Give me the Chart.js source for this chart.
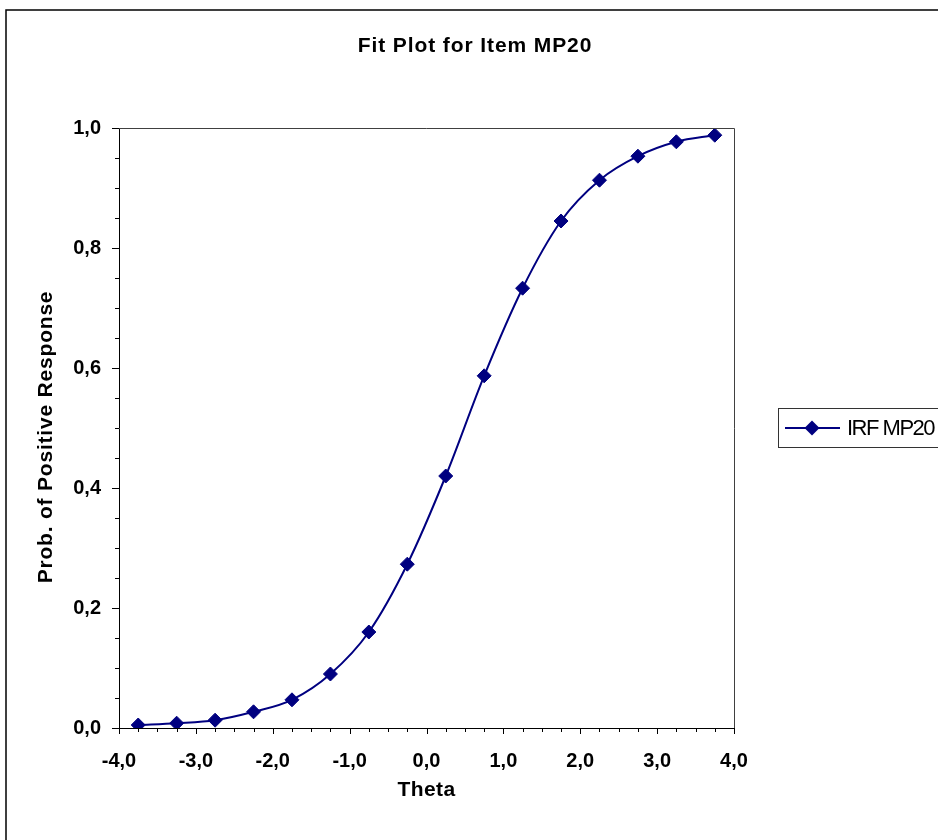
<!DOCTYPE html>
<html>
<head>
<meta charset="utf-8">
<script src="https://cdn.jsdelivr.net/npm/chart.js@4.4.1/dist/chart.umd.min.js"></script>
<style>
    html, body { margin: 0; padding: 0; background: #fff; }
    #wrap { width: 938px; height: 840px; }
</style>
</head>
<body>
<div id="wrap"><canvas id="fitPlot"></canvas></div>
<script>
const theta = [-3.75, -3.25, -2.75, -2.25, -1.75, -1.25, -0.75, -0.25, 0.25, 0.75, 1.25, 1.75, 2.25, 2.75, 3.25, 3.75];
const probIRF = [0.005, 0.008, 0.013, 0.027, 0.047, 0.09, 0.16, 0.273, 0.42, 0.587, 0.733, 0.845, 0.913, 0.953, 0.977, 0.988];
const xTicks = [-4, -3, -2, -1, 0, 1, 2, 3, 4];
const yTicks = [0, 0.2, 0.4, 0.6, 0.8, 1.0];

const chartTitle = 'Fit Plot for Item MP20';
const xTitle = 'Theta';
const yTitle = 'Prob. of Positive Response';
const seriesName = 'IRF MP20';

const navy = '#000080';
const comma = v => Number(v).toFixed(1).replace('.', ',');

// frame, minor ticks, titles and legend box (Excel look)
const excelDecor = {
    id: 'excelDecor',
    afterDraw(chart) {
        const ctx = chart.ctx;
        const a = chart.chartArea;
        const xs = chart.scales.x, ys = chart.scales.y;
        ctx.save();

        // outer chart border
        ctx.strokeStyle = '#000';
        ctx.lineWidth = 1.5;
        ctx.strokeRect(6, 10, chart.width + 20, chart.height + 20);

        // top/right plot frame
        ctx.strokeStyle = '#404040';
        ctx.lineWidth = 1;
        ctx.beginPath();
        ctx.moveTo(a.left, a.top + 0.5);
        ctx.lineTo(a.right + 0.5, a.top + 0.5);
        ctx.lineTo(a.right + 0.5, a.bottom);
        ctx.stroke();

        // tick marks
        ctx.strokeStyle = '#000';
        ctx.beginPath();
        for (let i = 0; i <= 20; i++) {
            const v = i * 0.05;
            const py = Math.round(ys.getPixelForValue(v)) + 0.5;
            const len = i % 4 === 0 ? 7 : 4;
            ctx.moveTo(a.left - len, py);
            ctx.lineTo(a.left, py);
        }
        for (let i = 0; i <= 32; i++) {
            const v = -4 + i * 0.25;
            const px = Math.round(xs.getPixelForValue(v)) + 0.5;
            const len = i % 4 === 0 ? 6 : 4;
            ctx.moveTo(px, a.bottom);
            ctx.lineTo(px, a.bottom + len);
        }
        ctx.stroke();

        // titles
        ctx.fillStyle = '#000';
        ctx.textAlign = 'center';
        ctx.textBaseline = 'middle';
        ctx.font = 'bold 21px "Liberation Sans", Arial, sans-serif';
        ctx.letterSpacing = '0.9px';
        ctx.fillText(chartTitle, chart.width / 2 + 6, 46);
        ctx.letterSpacing = '0.4px';
        ctx.fillText(xTitle, (a.left + a.right) / 2, 790);
        ctx.letterSpacing = '0.8px';
        ctx.save();
        ctx.translate(46, (a.top + a.bottom) / 2 + 9);
        ctx.rotate(-Math.PI / 2);
        ctx.fillText(yTitle, 0, 0);
        ctx.restore();

        // legend
        const ly = (a.top + a.bottom) / 2;
        const lx = a.right + 44;
        ctx.letterSpacing = '0px';
        ctx.strokeStyle = '#333';
        ctx.lineWidth = 1;
        ctx.strokeRect(lx + 0.5, ly - 19.5, 200, 39);
        ctx.strokeStyle = navy;
        ctx.lineWidth = 2;
        ctx.beginPath();
        ctx.moveTo(lx + 7, ly);
        ctx.lineTo(lx + 62, ly);
        ctx.stroke();
        ctx.fillStyle = navy;
        ctx.beginPath();
        ctx.moveTo(lx + 34, ly - 7.5);
        ctx.lineTo(lx + 41.5, ly);
        ctx.lineTo(lx + 34, ly + 7.5);
        ctx.lineTo(lx + 26.5, ly);
        ctx.closePath();
        ctx.fill();
        ctx.fillStyle = '#000';
        ctx.textAlign = 'left';
        ctx.font = '22px "Liberation Sans", Arial, sans-serif';
        ctx.letterSpacing = '-1.5px';
        ctx.fillText(seriesName, lx + 69, ly + 1);

        ctx.restore();
    }
};

new Chart(document.getElementById('fitPlot'), {
    type: 'line',
    data: {
        datasets: [{
            label: seriesName,
            data: theta.map((t, i) => ({ x: t, y: probIRF[i] })),
            borderColor: navy,
            backgroundColor: navy,
            borderWidth: 2,
            pointStyle: 'rectRot',
            pointRadius: 7,
            pointHoverRadius: 7,
            pointBackgroundColor: navy,
            pointBorderColor: navy,
            pointBorderWidth: 1,
            cubicInterpolationMode: 'monotone',
            fill: false
        }]
    },
    options: {
        responsive: true,
        maintainAspectRatio: false,
        animation: false,
        layout: {
            padding: { left: 6, top: 128, right: 204, bottom: 0 }
        },
        scales: {
            x: {
                type: 'linear',
                min: -4,
                max: 4,
                afterBuildTicks: scale => { scale.ticks = xTicks.map(v => ({ value: v })); },
                afterFit: scale => { scale.height = 112; },
                border: { display: true, color: '#000', width: 1 },
                grid: { display: true, drawOnChartArea: false, drawTicks: false },
                ticks: {
                    padding: 21,
                    color: '#000',
                    maxRotation: 0,
                    autoSkip: false,
                    font: { family: '"Liberation Sans", Arial, sans-serif', size: 20, weight: 'bold' },
                    callback: v => comma(v)
                }
            },
            y: {
                type: 'linear',
                min: 0,
                max: 1,
                afterBuildTicks: scale => { scale.ticks = yTicks.map(v => ({ value: v })); },
                afterFit: scale => { scale.width = 113; },
                border: { display: true, color: '#000', width: 1 },
                grid: { display: true, drawOnChartArea: false, drawTicks: false },
                ticks: {
                    padding: 18,
                    color: '#000',
                    autoSkip: false,
                    font: { family: '"Liberation Sans", Arial, sans-serif', size: 20, weight: 'bold' },
                    callback: v => comma(v)
                }
            }
        },
        plugins: {
            legend: { display: false },
            title: { display: false },
            tooltip: { enabled: false }
        }
    },
    plugins: [excelDecor]
});
</script>
</body>
</html>
